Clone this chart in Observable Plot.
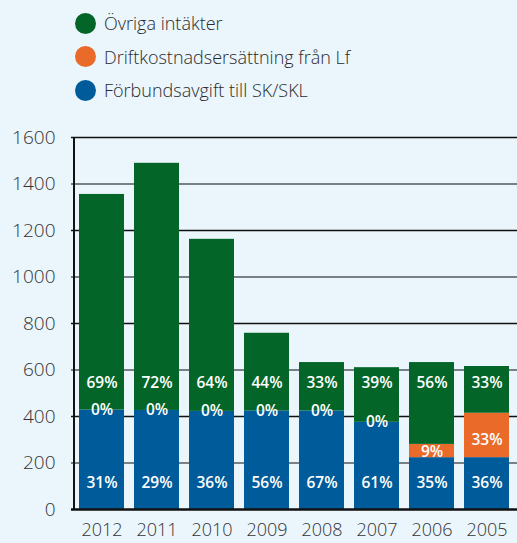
<!DOCTYPE html>
<html>
<head>
<meta charset="utf-8">
<script src="https://cdn.jsdelivr.net/npm/d3@7"></script>
<script src="https://cdn.jsdelivr.net/npm/@observablehq/plot@0.6"></script>
<style>
  html, body { margin: 0; padding: 0; background: #eaf5fc; overflow: hidden; }
  body { width: 517px; height: 543px; font-family: "Open Sans", Lato, sans-serif; }
  #legend { position: relative; height: 120px; }
  .item { position: absolute; left: 75px; display: flex; align-items: center; font-size: 18px; font-weight: 300; color: #2a2a2a; }
  .dot { width: 21px; height: 21px; border-radius: 50%; margin-right: 8px; }
  #chart svg { display: block; }
</style>
</head>
<body>
<div id="legend"></div>
<div id="chart"></div>
<script>
const years = ["2012", "2011", "2010", "2009", "2008", "2007", "2006", "2005"];
const seriesNames = ["Förbundsavgift till SK/SKL", "Driftkostnadsersättning från Lf", "Övriga intäkter"];
const seriesColors = ["#005b9a", "#ea6a2a", "#036628"];
const forbundsavgift = [428, 426, 422, 424, 424, 375, 223, 223];
const driftkostnad = [0, 0, 0, 0, 0, 0, 57, 191];
const ovriga = [927, 1063, 740, 334, 208, 235, 352, 201];
const forbundsPct = [31, 29, 36, 56, 67, 61, 35, 36];
const driftPct = [0, 0, 0, 0, 0, 0, 9, 33];
const ovrigaPct = [69, 72, 64, 44, 33, 39, 56, 33];
const yTicks = [0, 200, 400, 600, 800, 1000, 1200, 1400, 1600];

// legend (top to bottom order as in reference)
const legend = document.getElementById("legend");
[2, 1, 0].forEach((s, i) => {
  const d = document.createElement("div");
  d.className = "item";
  d.style.top = (11 + i * 33.5) + "px";
  d.innerHTML = `<span class="dot" style="background:${seriesColors[s]}"></span><span>${seriesNames[s]}</span>`;
  legend.appendChild(d);
});

const rows = [];
const seriesValues = [forbundsavgift, driftkostnad, ovriga];
years.forEach((yr, i) => {
  seriesValues.forEach((vals, s) => rows.push({year: yr, series: seriesNames[s], value: vals[i]}));
});

const labels = [];
years.forEach((yr, i) => {
  labels.push({year: yr, y: 115, text: forbundsPct[i] + "%"});
  labels.push({year: yr, y: forbundsavgift[i] + 0.4 * driftkostnad[i], text: driftPct[i] + "%"});
  labels.push({year: yr, y: 545, text: ovrigaPct[i] + "%"});
});

const chart = Plot.plot({
  width: 517,
  height: 423,
  marginLeft: 71,
  marginRight: 0,
  marginTop: 17,
  marginBottom: 34,
  style: {fontFamily: "'Open Sans', Lato, sans-serif", background: "transparent", overflow: "visible"},
  x: {type: "band", domain: years, paddingInner: 0.18, paddingOuter: 0.09, label: null},
  y: {domain: [0, 1600], label: null},
  color: {domain: seriesNames, range: seriesColors},
  marks: [
    Plot.ruleY(yTicks.filter(t => t > 0 && t % 400 !== 0), {stroke: "#7b8084", strokeWidth: 1.8}),
    Plot.ruleY(yTicks.filter(t => t > 0 && t % 400 === 0), {stroke: "#111", strokeWidth: 1.5}),
    Plot.barY(rows, {x: "year", y: "value", fill: "series", order: seriesNames}),
    Plot.text(labels, {x: "year", y: "y", text: "text", fill: "white", fontSize: 15.5, fontWeight: 600}),
    Plot.ruleX([0], {x: () => years[0], y1: 0, y2: 1600, dx: -28, stroke: "#111", strokeWidth: 2}),
    Plot.ruleY([0], {stroke: "#111", strokeWidth: 2.5}),
    Plot.axisY({ticks: yTicks, tickFormat: "d", tickSize: 0, tickPadding: 16, fontSize: 19, fontWeight: 300, fill: "#333"}),
    Plot.axisX({tickSize: 0, tickPadding: 14, fontSize: 18, fontWeight: 300, fill: "#333"})
  ]
});
document.getElementById("chart").appendChild(chart);
</script>
</body>
</html>
